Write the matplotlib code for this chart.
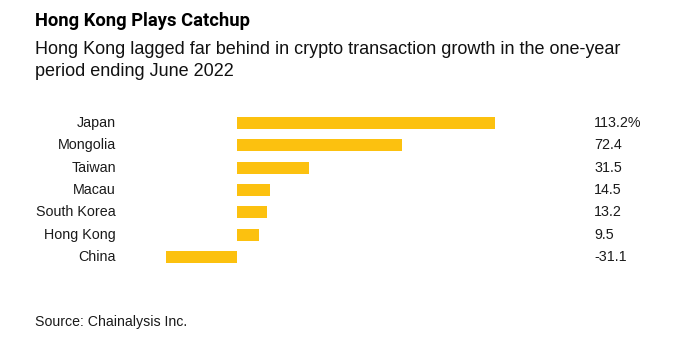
import matplotlib
matplotlib.use("Agg")
import matplotlib.pyplot as plt
from matplotlib.transforms import blended_transform_factory

countries = ["Japan", "Mongolia", "Taiwan", "Macau", "South Korea", "Hong Kong", "China"]
growth = [113.2, 72.4, 31.5, 14.5, 13.2, 9.5, -31.1]
value_labels = ["113.2%", "72.4", "31.5", "14.5", "13.2", "9.5", "-31.1"]

W, H = 686, 341
plt.rcParams["font.family"] = ["Liberation Sans", "DejaVu Sans"]
fig = plt.figure(figsize=(W / 100, H / 100), dpi=100)

# bar area: zero line at ~237px, Japan ends ~495px
x0, x1 = 166 / W, 495 / W
ytop, ybot = 111.8 / H, 268.2 / H
ax = fig.add_axes([x0, 1 - ybot, x1 - x0, ybot - ytop])
ypos = list(range(len(countries)))
ax.barh(ypos, growth, height=0.55, color="#fcc10f")
ax.set_xlim(min(growth), max(growth))
ax.set_ylim(len(countries) - 0.5, -0.5)
ax.axis("off")

tr = blended_transform_factory(fig.transFigure, ax.transData)
for y, name, lab in zip(ypos, countries, value_labels):
    ax.text(116 / W, y, name, transform=tr, ha="right", va="center", fontsize=10.3, color="#1a1a1a")
    ax.text(594 / W, y, lab, transform=tr, ha="left", va="center", fontsize=10.3, color="#1a1a1a")

fig.text(35 / W, 1 - 21 / H, "Hong Kong Plays Catchup", ha="left", va="center",
         fontsize=13.2, fontweight="bold", color="black",
         family=["Roboto", "Liberation Sans", "DejaVu Sans"])
fig.text(35 / W, 1 - 50 / H, "Hong Kong lagged far behind in crypto transaction growth in the one-year",
         ha="left", va="center", fontsize=13, color="#111111")
fig.text(35 / W, 1 - 72 / H, "period ending June 2022",
         ha="left", va="center", fontsize=13, color="#111111")
fig.text(35 / W, 1 - 322 / H, "Source: Chainalysis Inc.", ha="left", va="center",
         fontsize=10.2, color="#1a1a1a")

fig.savefig("out.png", dpi=100, facecolor="white")
